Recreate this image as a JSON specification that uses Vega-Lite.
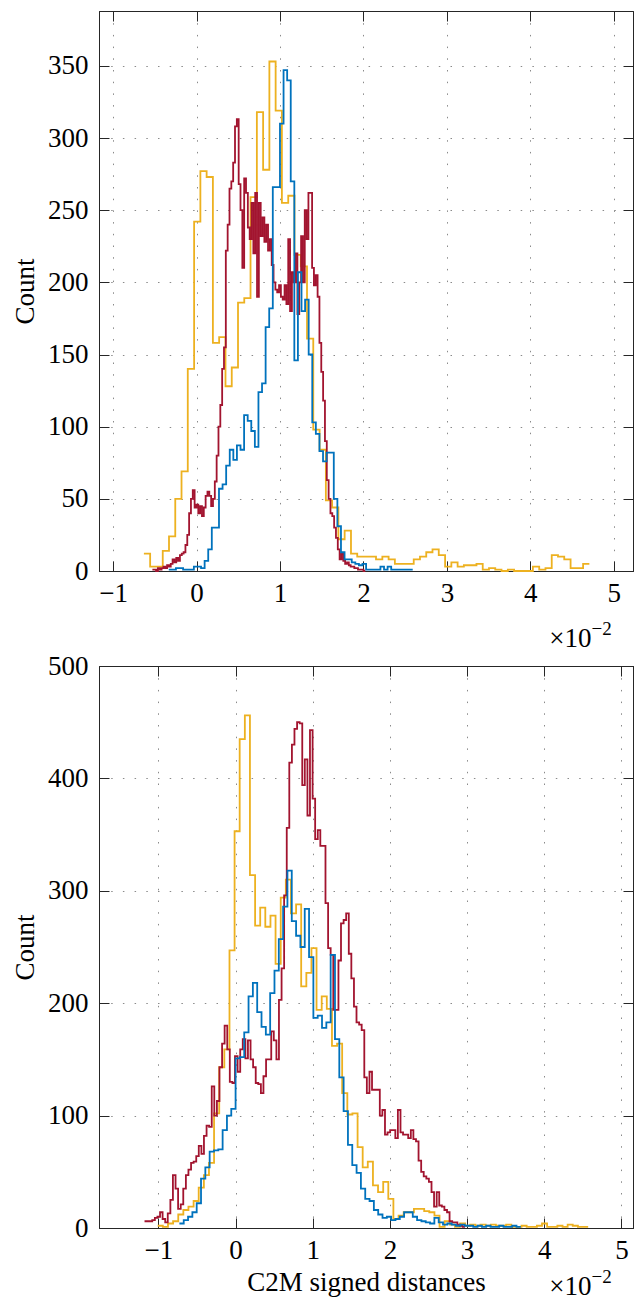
{
"$schema": "https://vega.github.io/schema/vega-lite/v6.json",
"background": "white",
"padding": {"left": 10, "top": 10, "right": 0, "bottom": 0},
"autosize": {"type": "pad"},
"spacing": 95,
"bounds": "flush",
"config": {
  "font": "Liberation Serif",
  "view": {"stroke": "#262626", "strokeWidth": 1},
  "axis": {"labelFont": "Liberation Serif", "titleFont": "Liberation Serif", "labelFontSize": 27, "titleFontSize": 27, "labelColor": "#000000", "titleColor": "#000000", "titleFontWeight": "normal", "domainColor": "#262626", "tickColor": "#262626", "gridColor": "#8a8a8a", "gridDash": [1.5, 10.2], "gridWidth": 1, "gridOpacity": 1, "labelFlush": false, "labelOverlap": false}
},
"datasets": {
"p1y": [{"x":-0.632,"c":12},{"x":-0.557,"c":3},{"x":-0.482,"c":3},{"x":-0.406,"c":14},{"x":-0.331,"c":24},{"x":-0.256,"c":50},{"x":-0.181,"c":69},{"x":-0.106,"c":140},{"x":-0.030,"c":242},{"x":0.045,"c":277},{"x":0.120,"c":273},{"x":0.195,"c":158},{"x":0.270,"c":162},{"x":0.346,"c":128},{"x":0.421,"c":141},{"x":0.496,"c":186},{"x":0.571,"c":189},{"x":0.646,"c":259},{"x":0.722,"c":318},{"x":0.797,"c":278},{"x":0.872,"c":353},{"x":0.947,"c":319},{"x":1.022,"c":255},{"x":1.098,"c":260},{"x":1.173,"c":219},{"x":1.248,"c":211},{"x":1.323,"c":161},{"x":1.398,"c":98},{"x":1.474,"c":84},{"x":1.549,"c":49},{"x":1.624,"c":44},{"x":1.699,"c":22},{"x":1.774,"c":28},{"x":1.850,"c":12},{"x":1.925,"c":10},{"x":2.000,"c":10},{"x":2.075,"c":10},{"x":2.150,"c":8},{"x":2.226,"c":10},{"x":2.301,"c":8},{"x":2.376,"c":5},{"x":2.451,"c":5},{"x":2.526,"c":5},{"x":2.602,"c":8},{"x":2.677,"c":10},{"x":2.752,"c":13},{"x":2.827,"c":15},{"x":2.902,"c":11},{"x":2.978,"c":3},{"x":3.053,"c":6},{"x":3.128,"c":3},{"x":3.203,"c":4},{"x":3.278,"c":4},{"x":3.354,"c":5},{"x":3.429,"c":1},{"x":3.504,"c":2},{"x":3.579,"c":1},{"x":3.654,"c":0},{"x":3.730,"c":1},{"x":3.805,"c":0},{"x":3.880,"c":0},{"x":3.955,"c":0},{"x":4.030,"c":3},{"x":4.106,"c":1},{"x":4.181,"c":2},{"x":4.256,"c":11},{"x":4.331,"c":10},{"x":4.406,"c":8},{"x":4.482,"c":2},{"x":4.557,"c":2},{"x":4.632,"c":5},{"x":4.707,"c":5}],
"p1b": [{"x":-0.334,"c":1},{"x":-0.291,"c":1},{"x":-0.248,"c":2},{"x":-0.205,"c":2},{"x":-0.162,"c":1},{"x":-0.119,"c":1},{"x":-0.076,"c":1},{"x":-0.033,"c":3},{"x":0.010,"c":3},{"x":0.053,"c":2},{"x":0.096,"c":7},{"x":0.139,"c":15},{"x":0.182,"c":30},{"x":0.225,"c":30},{"x":0.268,"c":57},{"x":0.311,"c":60},{"x":0.354,"c":73},{"x":0.397,"c":84},{"x":0.440,"c":77},{"x":0.483,"c":87},{"x":0.526,"c":84},{"x":0.569,"c":108},{"x":0.612,"c":104},{"x":0.655,"c":97},{"x":0.698,"c":86},{"x":0.741,"c":124},{"x":0.784,"c":130},{"x":0.827,"c":169},{"x":0.870,"c":182},{"x":0.913,"c":266},{"x":0.956,"c":266},{"x":0.999,"c":310},{"x":1.042,"c":347},{"x":1.085,"c":340},{"x":1.128,"c":270},{"x":1.171,"c":146},{"x":1.214,"c":207},{"x":1.257,"c":180},{"x":1.300,"c":188},{"x":1.343,"c":150},{"x":1.386,"c":103},{"x":1.429,"c":95},{"x":1.472,"c":83},{"x":1.515,"c":76},{"x":1.558,"c":82},{"x":1.601,"c":82},{"x":1.644,"c":50},{"x":1.687,"c":31},{"x":1.730,"c":13},{"x":1.773,"c":8},{"x":1.816,"c":8},{"x":1.859,"c":6},{"x":1.902,"c":5},{"x":1.945,"c":4},{"x":1.988,"c":5},{"x":2.031,"c":1},{"x":2.074,"c":1},{"x":2.117,"c":1},{"x":2.160,"c":1},{"x":2.203,"c":3},{"x":2.246,"c":1},{"x":2.289,"c":3},{"x":2.332,"c":1},{"x":2.375,"c":1},{"x":2.418,"c":1},{"x":2.461,"c":1},{"x":2.504,"c":1},{"x":2.547,"c":1},{"x":2.590,"c":1}],
"p1r": [{"x":-0.530,"c":1},{"x":-0.508,"c":1},{"x":-0.486,"c":0},{"x":-0.464,"c":2},{"x":-0.442,"c":1},{"x":-0.420,"c":2},{"x":-0.398,"c":3},{"x":-0.376,"c":2},{"x":-0.354,"c":4},{"x":-0.332,"c":3},{"x":-0.310,"c":5},{"x":-0.288,"c":8},{"x":-0.266,"c":6},{"x":-0.244,"c":9},{"x":-0.222,"c":7},{"x":-0.200,"c":11},{"x":-0.178,"c":12},{"x":-0.156,"c":13},{"x":-0.134,"c":18},{"x":-0.112,"c":25},{"x":-0.090,"c":40},{"x":-0.068,"c":50},{"x":-0.046,"c":56},{"x":-0.024,"c":44},{"x":-0.002,"c":46},{"x":0.020,"c":40},{"x":0.042,"c":45},{"x":0.064,"c":38},{"x":0.086,"c":44},{"x":0.108,"c":52},{"x":0.130,"c":55},{"x":0.152,"c":52},{"x":0.174,"c":45},{"x":0.196,"c":50},{"x":0.218,"c":62},{"x":0.240,"c":80},{"x":0.262,"c":100},{"x":0.284,"c":115},{"x":0.306,"c":140},{"x":0.328,"c":155},{"x":0.350,"c":222},{"x":0.372,"c":240},{"x":0.394,"c":265},{"x":0.416,"c":270},{"x":0.438,"c":283},{"x":0.460,"c":308},{"x":0.482,"c":313},{"x":0.504,"c":268},{"x":0.526,"c":250},{"x":0.548,"c":210},{"x":0.570,"c":272},{"x":0.592,"c":262},{"x":0.614,"c":238},{"x":0.636,"c":230},{"x":0.658,"c":255},{"x":0.680,"c":220},{"x":0.702,"c":262},{"x":0.724,"c":190},{"x":0.746,"c":255},{"x":0.768,"c":232},{"x":0.790,"c":245},{"x":0.812,"c":228},{"x":0.834,"c":240},{"x":0.856,"c":222},{"x":0.878,"c":230},{"x":0.900,"c":212},{"x":0.922,"c":200},{"x":0.944,"c":195},{"x":0.966,"c":193},{"x":0.988,"c":198},{"x":1.010,"c":190},{"x":1.032,"c":188},{"x":1.054,"c":198},{"x":1.076,"c":185},{"x":1.098,"c":230},{"x":1.120,"c":180},{"x":1.142,"c":207},{"x":1.164,"c":200},{"x":1.186,"c":220},{"x":1.208,"c":178},{"x":1.230,"c":200},{"x":1.252,"c":232},{"x":1.274,"c":200},{"x":1.296,"c":250},{"x":1.318,"c":230},{"x":1.340,"c":262},{"x":1.362,"c":262},{"x":1.384,"c":210},{"x":1.406,"c":198},{"x":1.428,"c":205},{"x":1.450,"c":190},{"x":1.472,"c":158},{"x":1.494,"c":138},{"x":1.516,"c":118},{"x":1.538,"c":90},{"x":1.560,"c":63},{"x":1.582,"c":50},{"x":1.604,"c":40},{"x":1.626,"c":38},{"x":1.648,"c":30},{"x":1.670,"c":23},{"x":1.692,"c":15},{"x":1.714,"c":8},{"x":1.736,"c":12},{"x":1.758,"c":7},{"x":1.780,"c":5},{"x":1.802,"c":6},{"x":1.824,"c":4},{"x":1.846,"c":3},{"x":1.868,"c":3},{"x":1.890,"c":2},{"x":1.912,"c":2},{"x":1.934,"c":1},{"x":1.956,"c":1},{"x":1.978,"c":1},{"x":2.000,"c":0},{"x":2.022,"c":0}],
"p2y": [{"x":-1.009,"c":2},{"x":-0.943,"c":1},{"x":-0.876,"c":4},{"x":-0.810,"c":6},{"x":-0.743,"c":12},{"x":-0.677,"c":16},{"x":-0.611,"c":19},{"x":-0.544,"c":24},{"x":-0.478,"c":36},{"x":-0.411,"c":47},{"x":-0.345,"c":58},{"x":-0.279,"c":102},{"x":-0.212,"c":143},{"x":-0.146,"c":159},{"x":-0.079,"c":247},{"x":-0.013,"c":353},{"x":0.053,"c":435},{"x":0.120,"c":456},{"x":0.186,"c":314},{"x":0.253,"c":269},{"x":0.319,"c":285},{"x":0.385,"c":268},{"x":0.452,"c":278},{"x":0.518,"c":235},{"x":0.585,"c":294},{"x":0.651,"c":310},{"x":0.717,"c":280},{"x":0.784,"c":288},{"x":0.850,"c":215},{"x":0.917,"c":227},{"x":0.983,"c":249},{"x":1.049,"c":194},{"x":1.116,"c":206},{"x":1.182,"c":195},{"x":1.249,"c":162},{"x":1.315,"c":164},{"x":1.381,"c":120},{"x":1.448,"c":101},{"x":1.514,"c":102},{"x":1.581,"c":72},{"x":1.647,"c":54},{"x":1.713,"c":59},{"x":1.780,"c":38},{"x":1.846,"c":32},{"x":1.913,"c":41},{"x":1.979,"c":26},{"x":2.045,"c":8},{"x":2.112,"c":11},{"x":2.178,"c":14},{"x":2.245,"c":14},{"x":2.311,"c":17},{"x":2.377,"c":17},{"x":2.444,"c":15},{"x":2.510,"c":14},{"x":2.577,"c":11},{"x":2.643,"c":1},{"x":2.709,"c":6},{"x":2.776,"c":3},{"x":2.842,"c":1},{"x":2.909,"c":4},{"x":2.975,"c":2},{"x":3.041,"c":3},{"x":3.108,"c":2},{"x":3.174,"c":3},{"x":3.241,"c":2},{"x":3.307,"c":3},{"x":3.373,"c":2},{"x":3.440,"c":2},{"x":3.506,"c":3},{"x":3.573,"c":1},{"x":3.639,"c":1},{"x":3.705,"c":2},{"x":3.772,"c":1},{"x":3.838,"c":1},{"x":3.905,"c":2},{"x":3.971,"c":4},{"x":4.037,"c":1},{"x":4.104,"c":1},{"x":4.170,"c":2},{"x":4.237,"c":1},{"x":4.303,"c":3},{"x":4.369,"c":2},{"x":4.436,"c":1},{"x":4.502,"c":1},{"x":4.569,"c":1}],
"p2b": [{"x":-0.728,"c":4},{"x":-0.672,"c":7},{"x":-0.616,"c":10},{"x":-0.560,"c":14},{"x":-0.504,"c":22},{"x":-0.448,"c":44},{"x":-0.392,"c":54},{"x":-0.336,"c":68},{"x":-0.280,"c":69},{"x":-0.224,"c":70},{"x":-0.168,"c":87},{"x":-0.112,"c":100},{"x":-0.056,"c":106},{"x":0.000,"c":151},{"x":0.056,"c":152},{"x":0.112,"c":174},{"x":0.168,"c":206},{"x":0.224,"c":218},{"x":0.280,"c":192},{"x":0.336,"c":179},{"x":0.392,"c":172},{"x":0.448,"c":209},{"x":0.504,"c":229},{"x":0.560,"c":257},{"x":0.616,"c":286},{"x":0.672,"c":318},{"x":0.728,"c":273},{"x":0.784,"c":260},{"x":0.840,"c":250},{"x":0.896,"c":284},{"x":0.952,"c":241},{"x":1.008,"c":187},{"x":1.064,"c":189},{"x":1.120,"c":178},{"x":1.176,"c":183},{"x":1.232,"c":243},{"x":1.288,"c":168},{"x":1.344,"c":134},{"x":1.400,"c":104},{"x":1.456,"c":74},{"x":1.512,"c":56},{"x":1.568,"c":49},{"x":1.624,"c":35},{"x":1.680,"c":26},{"x":1.736,"c":24},{"x":1.792,"c":16},{"x":1.848,"c":12},{"x":1.904,"c":9},{"x":1.960,"c":10},{"x":2.016,"c":7},{"x":2.072,"c":8},{"x":2.128,"c":10},{"x":2.184,"c":14},{"x":2.240,"c":14},{"x":2.296,"c":10},{"x":2.352,"c":7},{"x":2.408,"c":6},{"x":2.464,"c":5},{"x":2.520,"c":4},{"x":2.576,"c":9},{"x":2.632,"c":5},{"x":2.688,"c":3},{"x":2.744,"c":4},{"x":2.800,"c":3},{"x":2.856,"c":2},{"x":2.912,"c":3},{"x":2.968,"c":2},{"x":3.024,"c":2},{"x":3.080,"c":1},{"x":3.136,"c":2},{"x":3.192,"c":1},{"x":3.248,"c":2},{"x":3.304,"c":1},{"x":3.360,"c":1},{"x":3.416,"c":2},{"x":3.472,"c":1},{"x":3.528,"c":1},{"x":3.584,"c":2},{"x":3.640,"c":1},{"x":3.696,"c":1}],
"p2r": [{"x":-1.180,"c":6},{"x":-1.147,"c":6},{"x":-1.113,"c":6},{"x":-1.080,"c":7},{"x":-1.046,"c":9},{"x":-1.013,"c":10},{"x":-0.979,"c":14},{"x":-0.946,"c":8},{"x":-0.912,"c":5},{"x":-0.879,"c":13},{"x":-0.845,"c":25},{"x":-0.812,"c":47},{"x":-0.778,"c":35},{"x":-0.745,"c":17},{"x":-0.711,"c":21},{"x":-0.678,"c":35},{"x":-0.644,"c":47},{"x":-0.611,"c":52},{"x":-0.577,"c":58},{"x":-0.544,"c":59},{"x":-0.510,"c":64},{"x":-0.477,"c":73},{"x":-0.443,"c":66},{"x":-0.410,"c":82},{"x":-0.376,"c":91},{"x":-0.343,"c":90},{"x":-0.309,"c":126},{"x":-0.276,"c":100},{"x":-0.242,"c":113},{"x":-0.209,"c":143},{"x":-0.175,"c":164},{"x":-0.142,"c":180},{"x":-0.108,"c":159},{"x":-0.075,"c":130},{"x":-0.041,"c":129},{"x":-0.008,"c":153},{"x":0.026,"c":139},{"x":0.060,"c":159},{"x":0.093,"c":168},{"x":0.127,"c":151},{"x":0.160,"c":167},{"x":0.194,"c":150},{"x":0.227,"c":143},{"x":0.261,"c":129},{"x":0.294,"c":128},{"x":0.328,"c":120},{"x":0.361,"c":135},{"x":0.395,"c":150},{"x":0.428,"c":150},{"x":0.462,"c":175},{"x":0.495,"c":167},{"x":0.529,"c":150},{"x":0.562,"c":203},{"x":0.596,"c":231},{"x":0.629,"c":296},{"x":0.663,"c":356},{"x":0.696,"c":414},{"x":0.730,"c":430},{"x":0.763,"c":444},{"x":0.797,"c":450},{"x":0.830,"c":449},{"x":0.864,"c":394},{"x":0.897,"c":417},{"x":0.931,"c":367},{"x":0.964,"c":443},{"x":0.998,"c":382},{"x":1.031,"c":346},{"x":1.065,"c":354},{"x":1.098,"c":340},{"x":1.132,"c":340},{"x":1.165,"c":289},{"x":1.199,"c":249},{"x":1.232,"c":243},{"x":1.266,"c":194},{"x":1.299,"c":194},{"x":1.333,"c":238},{"x":1.366,"c":271},{"x":1.400,"c":274},{"x":1.433,"c":280},{"x":1.467,"c":244},{"x":1.500,"c":222},{"x":1.534,"c":197},{"x":1.567,"c":183},{"x":1.601,"c":181},{"x":1.634,"c":176},{"x":1.668,"c":134},{"x":1.701,"c":120},{"x":1.735,"c":139},{"x":1.768,"c":123},{"x":1.802,"c":123},{"x":1.835,"c":123},{"x":1.869,"c":100},{"x":1.902,"c":105},{"x":1.936,"c":83},{"x":1.969,"c":85},{"x":2.003,"c":87},{"x":2.036,"c":87},{"x":2.070,"c":80},{"x":2.103,"c":105},{"x":2.137,"c":85},{"x":2.170,"c":83},{"x":2.204,"c":83},{"x":2.237,"c":80},{"x":2.271,"c":87},{"x":2.304,"c":79},{"x":2.338,"c":77},{"x":2.371,"c":60},{"x":2.405,"c":50},{"x":2.438,"c":46},{"x":2.472,"c":44},{"x":2.505,"c":41},{"x":2.539,"c":32},{"x":2.572,"c":19},{"x":2.606,"c":32},{"x":2.639,"c":20},{"x":2.673,"c":19},{"x":2.706,"c":16},{"x":2.740,"c":14},{"x":2.773,"c":6},{"x":2.807,"c":5},{"x":2.840,"c":5},{"x":2.874,"c":3},{"x":2.907,"c":2},{"x":2.941,"c":1},{"x":2.974,"c":1}]
},
"vconcat": [
{
  "width": 534, "height": 560,
  "resolve": {"axis": {"x": "independent", "y": "independent"}},
  "layer": [
    {"data": {"name": "p1y"},
     "mark": {"type": "line", "interpolate": "step-after", "color": "#EDB120", "strokeWidth": 1.8},
     "encoding": {
       "x": {"field": "x", "type": "quantitative", "scale": {"domain": [-1.17, 5.23], "nice": false, "zero": false},
             "axis": {"orient": "bottom", "values": [-1,0,1,2,3,4,5], "title": null, "tickSize": -10, "labelPadding": 19, "grid": true}},
       "y": {"field": "c", "type": "quantitative", "scale": {"domain": [0, 388], "nice": false},
             "axis": {"orient": "left", "values": [0,50,100,150,200,250,300,350], "title": "Count", "tickSize": -10, "labelPadding": 21, "grid": true, "titleX": -66, "titleBaseline": "alphabetic"}}
     }},
    {"data": {"name": "p1r"},
     "mark": {"type": "line", "interpolate": "step-after", "color": "#A2142F", "strokeWidth": 1.8},
     "encoding": {
       "x": {"field": "x", "type": "quantitative", "scale": {"domain": [-1.17, 5.23], "nice": false, "zero": false},
             "axis": {"orient": "top", "values": [-1,0,1,2,3,4,5], "title": null, "tickSize": -10, "labels": false, "grid": false}},
       "y": {"field": "c", "type": "quantitative", "scale": {"domain": [0, 388], "nice": false},
             "axis": {"orient": "right", "values": [0,50,100,150,200,250,300,350], "title": null, "tickSize": -10, "labels": false, "grid": false}}
     }},
    {"data": {"name": "p1b"},
     "mark": {"type": "line", "interpolate": "step-after", "color": "#0072BD", "strokeWidth": 1.8},
     "encoding": {
       "x": {"field": "x", "type": "quantitative", "scale": {"domain": [-1.17, 5.23], "nice": false, "zero": false},
             "axis": {"orient": "bottom", "title": "×10", "titleFontSize": 27, "labels": false, "ticks": false, "domain": false, "grid": false, "titleX": 492, "titleY": 75, "titleAlign": "right", "titleBaseline": "alphabetic"}},
       "y": {"field": "c", "type": "quantitative", "scale": {"domain": [0, 388], "nice": false},
             "axis": {"orient": "right", "title": "−2", "titleFontSize": 19, "titleAngle": 0, "labels": false, "ticks": false, "domain": false, "grid": false, "titleX": -42, "titleY": 623, "titleAlign": "left", "titleBaseline": "alphabetic"}}
     }}
  ]
},
{
  "width": 534, "height": 562,
  "resolve": {"axis": {"x": "independent", "y": "independent"}},
  "layer": [
    {"data": {"name": "p2y"},
     "mark": {"type": "line", "interpolate": "step-after", "color": "#EDB120", "strokeWidth": 1.8},
     "encoding": {
       "x": {"field": "x", "type": "quantitative", "scale": {"domain": [-1.77, 5.15], "nice": false, "zero": false},
             "axis": {"orient": "bottom", "values": [-1,0,1,2,3,4,5], "title": "C2M signed distances", "tickSize": -10, "labelPadding": 19, "grid": true, "titleX": 267, "titleY": 62, "titleAlign": "center", "titleBaseline": "alphabetic"}},
       "y": {"field": "c", "type": "quantitative", "scale": {"domain": [0, 500], "nice": false},
             "axis": {"orient": "left", "values": [0,100,200,300,400,500], "title": "Count", "tickSize": -10, "labelPadding": 21, "grid": true, "titleX": -66, "titleBaseline": "alphabetic"}}
     }},
    {"data": {"name": "p2r"},
     "mark": {"type": "line", "interpolate": "step-after", "color": "#A2142F", "strokeWidth": 1.8},
     "encoding": {
       "x": {"field": "x", "type": "quantitative", "scale": {"domain": [-1.77, 5.15], "nice": false, "zero": false},
             "axis": {"orient": "top", "values": [-1,0,1,2,3,4,5], "title": null, "tickSize": -10, "labels": false, "grid": false}},
       "y": {"field": "c", "type": "quantitative", "scale": {"domain": [0, 500], "nice": false},
             "axis": {"orient": "right", "values": [0,100,200,300,400,500], "title": null, "tickSize": -10, "labels": false, "grid": false}}
     }},
    {"data": {"name": "p2b"},
     "mark": {"type": "line", "interpolate": "step-after", "color": "#0072BD", "strokeWidth": 1.8},
     "encoding": {
       "x": {"field": "x", "type": "quantitative", "scale": {"domain": [-1.77, 5.15], "nice": false, "zero": false},
             "axis": {"orient": "bottom", "title": "×10", "titleFontSize": 27, "labels": false, "ticks": false, "domain": false, "grid": false, "titleX": 492, "titleY": 66, "titleAlign": "right", "titleBaseline": "alphabetic"}},
       "y": {"field": "c", "type": "quantitative", "scale": {"domain": [0, 500], "nice": false},
             "axis": {"orient": "right", "title": "−2", "titleFontSize": 19, "titleAngle": 0, "labels": false, "ticks": false, "domain": false, "grid": false, "titleX": -42, "titleY": 616, "titleAlign": "left", "titleBaseline": "alphabetic"}}
     }}
  ]
}
]
}
